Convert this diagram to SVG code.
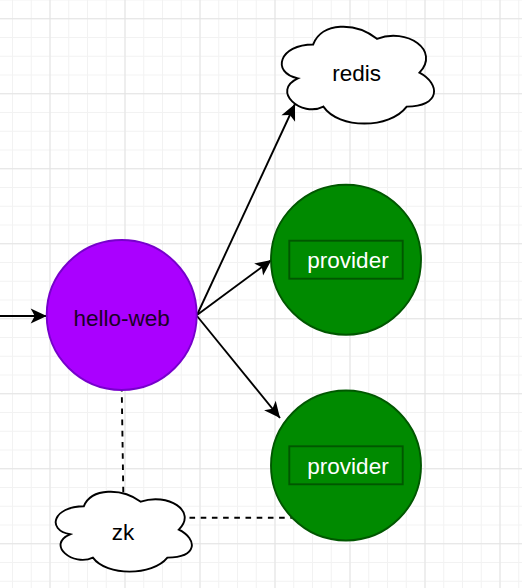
<svg xmlns="http://www.w3.org/2000/svg" width="522" height="588" viewBox="0 0 522 588">
<style>
.edge{fill:none;stroke:#000;stroke-width:1.9}
.dash{stroke-dasharray:5.6 5.6}
.lbl{font-family:"Liberation Sans",Arial,sans-serif;font-size:22.5px;text-anchor:middle}
.cloud{fill:#fff;stroke:#000;stroke-width:1.9}
.prov{fill:#008a00;stroke:#005700;stroke-width:1.9}
</style>
<defs>
<pattern id="gmin" x="12" y="-0.5" width="18.75" height="18.75" patternUnits="userSpaceOnUse">
<path d="M0.5,0V18.75M0,0.5H18.75" stroke="#f2f2f2" stroke-width="1" fill="none"/>
</pattern>
<pattern id="gmaj" x="49.5" y="18.25" width="75" height="75" patternUnits="userSpaceOnUse">
<path d="M0.5,0V75M0,0.5H75" stroke="#e3e3e3" stroke-width="1" fill="none"/>
</pattern>
<marker id="arr" markerUnits="userSpaceOnUse" viewBox="-17 -9 18 18" refX="0" refY="0" markerWidth="18" markerHeight="18" orient="auto">
<path d="M0,0L-16,-7.5L-12,0L-16,7.5Z" fill="#000"/>
</marker>
</defs>
<rect width="522" height="588" fill="#fff"/>
<rect width="522" height="588" fill="url(#gmin)"/>
<rect width="522" height="588" fill="url(#gmaj)"/>
<g id="connectors">
<line class="edge" x1="0" y1="316" x2="46.7" y2="316" marker-end="url(#arr)"/>
<line class="edge" x1="197" y1="315" x2="295" y2="104" marker-end="url(#arr)"/>
<line class="edge" x1="197" y1="315" x2="271.5" y2="260" marker-end="url(#arr)"/>
<line class="edge" x1="197" y1="316" x2="280" y2="418" marker-end="url(#arr)"/>
<line class="edge dash" x1="121.7" y1="386" x2="123.3" y2="493"/>
<line class="edge dash" x1="189.5" y1="517.7" x2="292" y2="517.7"/>
</g>
<g id="hello-web">
<circle cx="121.7" cy="315" r="75" fill="#aa00ff" stroke="#7700cc" stroke-width="1.9"/>
<text class="lbl" x="121.7" y="325.5" fill="#1a0026">hello-web</text>
</g>
<g id="redis">
<path class="cloud" d="M313.2,44.45C279.2,44.45 270.7,72.7 297.9,78.35C270.7,90.8 301.3,117.9 323.4,106.6C338.7,129.2 389.7,129.2 406.7,106.6C440.7,106.6 440.7,84 419.45,72.7C440.7,50.1 406.7,27.5 376.95,38.8C355.7,21.85 321.7,21.85 313.2,44.45Z"/>
<text class="lbl" x="356.7" y="81" fill="#000">redis</text>
</g>
<g id="provider1">
<circle class="prov" cx="346" cy="259.7" r="75"/>
<rect x="289.3" y="240.7" width="113.4" height="38" fill="none" stroke="#005700" stroke-width="1.9"/>
<text class="lbl" x="348" y="268.3" fill="#fff">provider</text>
</g>
<g id="provider2">
<circle class="prov" cx="346" cy="465.5" r="75"/>
<rect x="289.3" y="446.3" width="113.4" height="38" fill="none" stroke="#005700" stroke-width="1.9"/>
<text class="lbl" x="348" y="474" fill="#fff">provider</text>
</g>
<g id="zk">
<path class="cloud" d="M83.8,506.3C53.4,506.3 45.8,529.65 70.1,534.3C45.8,544.6 73.2,567 92.9,557.6C106.6,576.3 152.2,576.3 167.4,557.6C197.8,557.6 197.8,539 178.8,529.65C197.8,511 167.4,492.3 140.8,501.7C121.8,487.7 91.4,487.7 83.8,506.3Z"/>
<text class="lbl" x="123" y="540" fill="#000">zk</text>
</g>
</svg>
